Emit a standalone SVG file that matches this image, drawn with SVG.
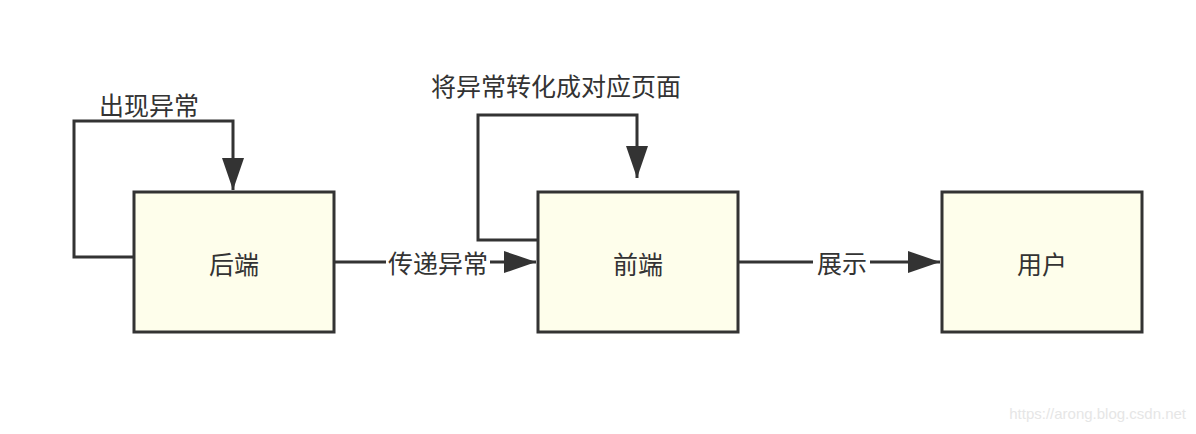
<svg xmlns="http://www.w3.org/2000/svg" width="1196" height="434" viewBox="0 0 1196 434">
<style>
.box{fill:#fefeeb;stroke:#333;stroke-width:3}
.edge{fill:none;stroke:#333;stroke-width:3}
.lbl{font-family:"Noto Sans CJK SC","Noto Sans",sans-serif;font-size:25px;fill:#333;text-anchor:middle;dominant-baseline:central}
.bg{fill:#fff}
</style>
<defs>
<marker id="arr" markerUnits="userSpaceOnUse" markerWidth="34" markerHeight="22" refX="32" refY="11" orient="auto">
<path d="M0,0 L32,11 L0,22 Z" fill="#333"/>
</marker>
</defs>
<rect width="1196" height="434" fill="#fff"/>
<g id="connectors">
<path class="edge" d="M133,257 H74 V121 H233 V190" marker-end="url(#arr)"/>
<path class="edge" d="M537,240 H478 V115 H637 V178" marker-end="url(#arr)"/>
<path class="edge" d="M335,262 H536" marker-end="url(#arr)"/>
<rect class="bg" x="386" y="246" width="104" height="32"/>
<text class="lbl" x="438" y="262">传递异常</text>
<path class="edge" d="M739,262 H940" marker-end="url(#arr)"/>
<rect class="bg" x="813" y="246" width="57" height="32"/>
<text class="lbl" x="842" y="262">展示</text>
<text class="lbl" x="149" y="104">出现异常</text>
<text class="lbl" x="556" y="85">将异常转化成对应页面</text>
</g>
<g id="backend">
<rect class="box" x="134" y="192" width="200" height="140"/>
<text class="lbl" x="234" y="263">后端</text>
</g>
<g id="frontend">
<rect class="box" x="538" y="192" width="200" height="140"/>
<text class="lbl" x="638" y="263">前端</text>
</g>
<g id="user">
<rect class="box" x="942" y="192" width="200" height="140"/>
<text class="lbl" x="1042" y="263">用户</text>
</g>
<text x="1186" y="419" font-family="Liberation Sans,Arial,sans-serif" font-size="15" fill="#e6e6e6" text-anchor="end">https://arong.blog.csdn.net</text>
</svg>
